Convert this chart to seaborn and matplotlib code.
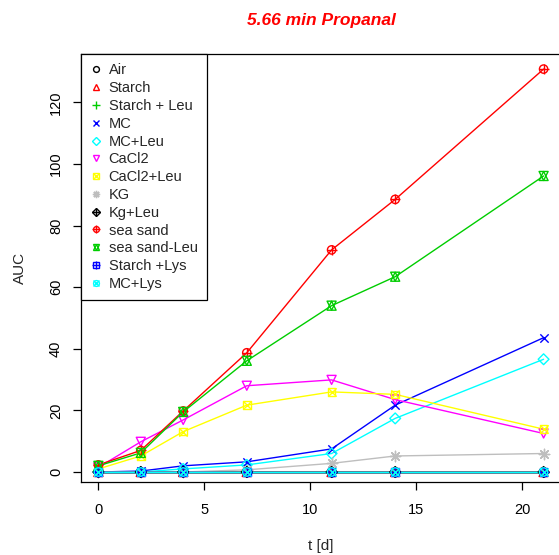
import numpy as np
import pandas as pd
import matplotlib
matplotlib.use("Agg")
import matplotlib.pyplot as plt
from matplotlib.lines import Line2D
from matplotlib.legend_handler import HandlerTuple
import seaborn as sns

sns.set_theme(style="ticks")
plt.rcParams['font.family'] = ['Liberation Sans', 'DejaVu Sans']

# ---- data ----
days = [0, 2, 4, 7, 11, 14, 21]
labels = ["Air", "Starch", "Starch + Leu", "MC", "MC+Leu", "CaCl2", "CaCl2+Leu",
          "KG", "Kg+Leu", "sea sand", "sea sand-Leu", "Starch +Lys", "MC+Lys"]
air = [0, 0, 0, 0, 0, 0, 0]
starch = [0, 0, 0, 0, 0, 0, 0]
starch_leu = [0, 0, 0, 0, 0, 0, 0]
mc = [0, 0.3, 2.0, 3.3, 7.5, 21.7, 43.6]
mc_leu = [0, 0, 1.0, 2.3, 6.0, 17.4, 36.6]
cacl2 = [1.5, 9.8, 16.9, 28.0, 29.9, 23.5, 12.5]
cacl2_leu = [1.0, 5.2, 13.1, 21.7, 26.0, 25.2, 13.9]
kg = [0, 0, 0, 0.7, 2.8, 5.2, 6.0]
kg_leu = [0, 0, 0, 0, 0, 0, 0]
sea_sand = [2.3, 7.0, 19.8, 38.7, 72.1, 88.5, 130.8]
sea_sand_leu = [2.0, 6.2, 19.5, 36.1, 54.0, 63.4, 96.1]
starch_lys = [0, 0, 0, 0, 0, 0, 0]
mc_lys = [0, 0, 0, 0, 0, 0, 0]
series = [air, starch, starch_leu, mc, mc_leu, cacl2, cacl2_leu,
          kg, kg_leu, sea_sand, sea_sand_leu, starch_lys, mc_lys]

# R default palette (recycled)
colors = ["#000000", "#FF0000", "#00CD00", "#0000FF", "#00FFFF", "#FF00FF",
          "#FFFF00", "#BEBEBE", "#000000", "#FF0000", "#00CD00", "#0000FF", "#00FFFF"]
# marker layers emulating R pch 1..13
markers = [["o"], ["^"], ["+"], ["x"], ["D"], ["v"], ["s", "x"], [(8, 2, 0)],
           ["D", "+"], ["o", "+"], ["^", "v"], ["s", "+"], ["o", "x"]]
open_m = {"o", "^", "D", "v", "s"}
msize = {"o": 6.0, "^": 6.5, "+": 7.5, "x": 6.0, "D": 5.5, "v": 6.5, "s": 5.5}

fig = plt.figure(figsize=(5.59, 5.55), dpi=100)
ax = fig.add_axes([81 / 559, 1 - 482 / 555, (561.4 - 81) / 559, (482 - 54) / 555])

handles = []
for lab, vals, col, mks in zip(labels, series, colors, markers):
    df = pd.DataFrame({"t": days, "v": vals})
    sns.lineplot(data=df, x="t", y="v", color=col, lw=1.0, ax=ax, legend=False,
                 zorder=2)
    hparts = []
    for m in mks:
        ms = msize.get(m, 7) if not isinstance(m, tuple) else 7.5
        fc = "none" if (isinstance(m, str) and m in open_m) else col
        sns.scatterplot(data=df, x="t", y="v", marker=m, s=ms ** 2,
                        facecolors=fc if fc == "none" else col,
                        edgecolors=col, linewidths=1.0, ax=ax, legend=False,
                        zorder=3)
        hparts.append(Line2D([], [], ls="none", marker=m, color=col,
                             markerfacecolor=fc, markeredgecolor=col,
                             markersize=ms * 0.7, markeredgewidth=1.0))
    handles.append(tuple(hparts) if len(hparts) > 1 else hparts[0])

ax.set_xlim(-0.82, 21.84)
ax.set_ylim(-3.25, 135.7)
ax.set_xticks([0, 5, 10, 15, 20])
ax.set_yticks([0, 20, 40, 60, 80, 100, 120])
ax.tick_params(axis="both", direction="out", length=6, width=0.9, colors="black",
               labelsize=10.5)
ax.tick_params(axis="x", pad=9)
ax.tick_params(axis="y", pad=7)
for lbl in ax.get_yticklabels():
    lbl.set_rotation(90)
    lbl.set_va("center")
for sp in ax.spines.values():
    sp.set_visible(True)
    sp.set_color("black")
    sp.set_linewidth(0.9)

ax.set_xlabel("t [d]", fontsize=11, labelpad=16)
ax.set_ylabel("AUC", fontsize=11, labelpad=16)

fig.text(321 / 559, 1 - 20.5 / 555, "5.66 min Propanal", color="#FF0000",
         fontsize=12.5, fontweight="bold", fontstyle="italic", ha="center", va="center")

leg = ax.legend(handles, labels, loc="upper left", bbox_to_anchor=(0, 1),
                borderaxespad=0, frameon=True, fancybox=False, fontsize=10.5,
                handler_map={tuple: HandlerTuple(ndivide=1, pad=0)},
                handlelength=0.7, handletextpad=0.55, labelspacing=0.26,
                borderpad=0.65)
leg.get_frame().set_edgecolor("black")
leg.get_frame().set_linewidth(0.9)
leg.get_frame().set_alpha(1)

fig.savefig("out.png", dpi=100)
